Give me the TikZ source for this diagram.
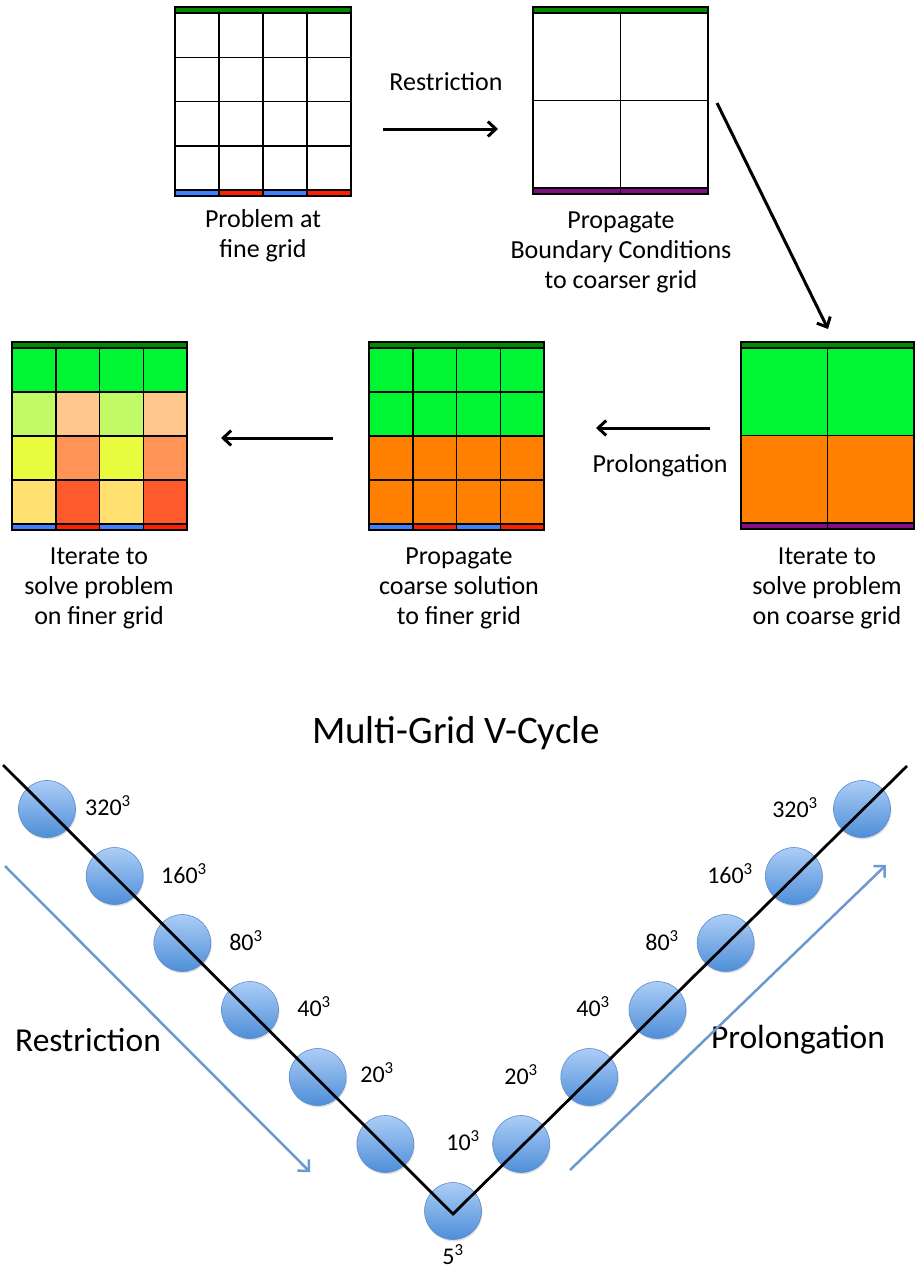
\documentclass[tikz,border=0pt]{standalone}
\usepackage{fontspec}
\setmainfont{Carlito}
\usetikzlibrary{arrows.meta,shadows}
\definecolor{barG}{RGB}{0,138,0}
\definecolor{cG}{RGB}{0,245,50}
\definecolor{cO}{RGB}{255,127,0}
\definecolor{cB}{RGB}{64,128,255}
\definecolor{cR}{RGB}{255,32,0}
\definecolor{cP}{RGB}{128,16,128}
\definecolor{cXa}{RGB}{194,249,103}
\definecolor{cXb}{RGB}{255,199,140}
\definecolor{cYa}{RGB}{232,251,63}
\definecolor{cYb}{RGB}{255,148,86}
\definecolor{cZa}{RGB}{255,224,112}
\definecolor{cZb}{RGB}{255,90,44}
\definecolor{ballT}{RGB}{172,205,246}
\definecolor{ballB}{RGB}{78,142,216}
\definecolor{ballE}{RGB}{90,140,205}
\definecolor{arrB}{RGB}{106,154,206}
\newcommand\mgGrid[6]{% x0, y0, cellw, cellh, ncols, nrows
  \foreach \i in {0,...,#5}{\draw[gl] ({#1+\i*#3},#2) -- ++(0,{#6*#4});}
  \foreach \j in {0,...,#6}{\draw[gl] (#1,{#2+\j*#4}) -- ++({#5*#3},0);}
}
\begin{document}
\begin{tikzpicture}[x=1pt,y=-1pt,
  gl/.style={line width=1.5pt,draw=black},
  captxt/.style={align=center,font=\fontsize{26}{30}\selectfont,inner sep=0pt},
  bigtxt/.style={font=\fontsize{33.5}{40}\selectfont,inner sep=0pt},
  labtxt/.style={font=\fontsize{24}{28}\selectfont,inner sep=0pt},
  karr/.style={line width=3pt,-{Straight Barb[length=8pt,width=15pt,line width=3pt]}},
  barr/.style={line width=2.5pt,draw=arrB,-{Straight Barb[length=8pt,width=16pt,line width=2.5pt]}},
  vline/.style={line width=2.8pt,draw=black,line join=miter},
  ball/.style={circle,minimum size=57pt,inner sep=0pt,top color=ballT,bottom color=ballB,draw=ballE,line width=0.6pt,
    drop shadow={opacity=0.25,shadow xshift=0.8pt,shadow yshift=-1.8pt}}]
\useasboundingbox[fill=white] (0,0) rectangle (914,1274);

% ---------- G1: fine grid (top left)
\fill[barG] (175,7) rectangle (351,13);
\foreach \c [count=\i from 0] in {cB,cR,cB,cR} \fill[\c] ({175+\i*44},190) rectangle ++(44,6);
\mgGrid{175}{13}{44}{44.25}{4}{4}
\draw[gl] (175,7) rectangle (351,196);
\foreach \i in {1,2,3} \draw[gl] ({175+\i*44},190) -- ++(0,6);

% ---------- G2: coarse grid (top right)
\fill[barG] (533,7) rectangle (708,13);
\fill[cP] (533,188) rectangle (708,194);
\mgGrid{533}{13}{87.5}{87.5}{2}{2}
\draw[gl] (533,7) rectangle (708,194);
\draw[gl] (620.5,188) -- ++(0,6);

% ---------- G3: finer iterated grid (bottom left)
\fill[barG] (12,342) rectangle (187,348);
\foreach \ca/\cb [count=\j from 0] in {cG/cG,cXa/cXb,cYa/cYb,cZa/cZb}{
  \foreach \cc [count=\i from 0] in {\ca,\cb,\ca,\cb}
    \fill[\cc] ({12+\i*43.75},{348+\j*44}) rectangle ++(43.75,44);
}
\foreach \c [count=\i from 0] in {cB,cR,cB,cR} \fill[\c] ({12+\i*43.75},524) rectangle ++(43.75,6);
\mgGrid{12}{348}{43.75}{44}{4}{4}
\draw[gl] (12,342) rectangle (187,530);
\foreach \i in {1,2,3} \draw[gl] ({12+\i*43.75},524) -- ++(0,6);

% ---------- G4: propagated grid (bottom middle)
\fill[barG] (369,342) rectangle (544,348);
\fill[cG] (369,348) rectangle (544,436);
\fill[cO] (369,436) rectangle (544,524);
\foreach \c [count=\i from 0] in {cB,cR,cB,cR} \fill[\c] ({369+\i*43.75},524) rectangle ++(43.75,6);
\mgGrid{369}{348}{43.75}{44}{4}{4}
\draw[gl] (369,342) rectangle (544,530);
\foreach \i in {1,2,3} \draw[gl] ({369+\i*43.75},524) -- ++(0,6);

% ---------- G5: coarse iterated grid (bottom right)
\fill[barG] (741,342) rectangle (914,348);
\fill[cG] (741,348) rectangle (914,435.5);
\fill[cO] (741,435.5) rectangle (914,523);
\fill[cP] (741,523) rectangle (914,529);
\mgGrid{741}{348}{86.5}{87.5}{2}{2}
\draw[gl] (741,342) rectangle (914,529);
\draw[gl] (827.5,523) -- ++(0,6);

% ---------- arrows and labels of the upper part
\coordinate (ra) at (383,129); \coordinate (rb) at (498,129);
\draw[karr] (ra) -- (rb);
\node[captxt] (restop) at (446,82) {Restriction};
\coordinate (da) at (717,103); \coordinate (db) at (828,329);
\draw[karr] (da) -- (db);
\coordinate (pa) at (710,428); \coordinate (pb) at (596,428);
\draw[karr] (pa) -- (pb);
\node[captxt] (prolo) at (660,466) {Prolongation};
\coordinate (la) at (333,438); \coordinate (lb) at (221,438);
\draw[karr] (la) -- (lb);

\node[captxt] (c1) at (263,236) {Problem at\\fine grid};
\node[captxt] (c2) at (621,252) {Propagate\\Boundary Conditions\\to coarser grid};
\node[captxt] (c3) at (99,588) {Iterate to\\solve problem\\on finer grid};
\node[captxt] (c4) at (459,588) {Propagate\\coarse solution\\to finer grid};
\node[captxt] (c5) at (827,588) {Iterate to\\solve problem\\on coarse grid};

% ---------- V-cycle
\node[bigtxt,font=\fontsize{39}{44}\selectfont] (title) at (456,733) {Multi-Grid V-Cycle};
\node[bigtxt] (rlab) at (88,1040) {Restriction};
\node[bigtxt] (plab) at (798,1040) {Prolongation};

\coordinate (ba) at (5,866); \coordinate (bb) at (310,1172);
\draw[barr] (ba) -- (bb);
\coordinate (bc) at (570,1170); \coordinate (bd) at (886,865);
\draw[barr] (bc) -- (bd);

\foreach \k in {0,...,6}{
  \node[ball] (l\k) at ({47+\k*67.67},{809+\k*67}) {};
}
\foreach \k in {1,...,6}{
  \node[ball] (r\k) at ({453+\k*68.17},{1211-\k*67}) {};
}
\coordinate (vl) at (3,765); \coordinate (vb) at (453,1214); \coordinate (vr) at (907,766);
\draw[vline] (vl) -- (vb) -- (vr);

\node[labtxt] (t1) at (108,806) {320\textsuperscript{3}};
\node[labtxt] (t2) at (184,874) {160\textsuperscript{3}};
\node[labtxt] (t3) at (246,941) {80\textsuperscript{3}};
\node[labtxt] (t4) at (314,1007) {40\textsuperscript{3}};
\node[labtxt] (t5) at (377,1073) {20\textsuperscript{3}};
\node[labtxt] (t6) at (463,1141) {10\textsuperscript{3}};
\node[labtxt] (t7) at (453,1255) {5\textsuperscript{3}};
\node[labtxt] (u1) at (521,1075) {20\textsuperscript{3}};
\node[labtxt] (u2) at (593,1007) {40\textsuperscript{3}};
\node[labtxt] (u3) at (662,941) {80\textsuperscript{3}};
\node[labtxt] (u4) at (730,874) {160\textsuperscript{3}};
\node[labtxt] (u5) at (795,808) {320\textsuperscript{3}};
\end{tikzpicture}
\end{document}
